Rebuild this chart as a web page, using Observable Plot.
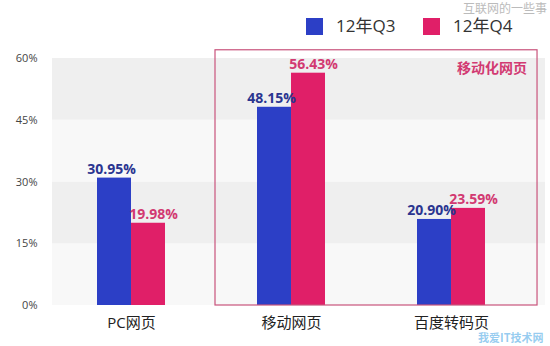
<!DOCTYPE html>
<html><head><meta charset="utf-8">
<script src="https://cdn.jsdelivr.net/npm/d3@7"></script>
<script src="https://cdn.jsdelivr.net/npm/@observablehq/plot@0.6"></script>
<style>
body{margin:0;background:#fff;}
#wrap{position:relative;width:550px;height:346px;font-family:"Open Sans","Noto Sans CJK SC",sans-serif;overflow:hidden;}
.leg{position:absolute;top:17px;font-size:17px;line-height:18px;color:#333;display:flex;align-items:center;}
.sw{display:inline-block;width:17px;height:17px;margin-right:13px;}
.wm{position:absolute;font-family:"Noto Sans CJK SC",sans-serif;}
</style>
</head><body><div id="wrap"></div>
<script>
const categories = ["PC网页", "移动网页", "百度转码页"];
const series = ["12年Q3", "12年Q4"];
const q3 = [30.95, 48.15, 20.90];
const q4 = [19.98, 56.43, 23.59];
const yTicks = [0, 15, 30, 45, 60];
const bandEdges = [[0, 15], [15, 30], [30, 45], [45, 60]];
const highlightCats = ["移动网页", "百度转码页"];
const highlightLabel = "移动化网页";
const highlightTop = 62;

const barColors = ["#2c3fc6", "#e01f68"];
const labelColors = ["#2a3590", "#d23a72"];

const data = categories.flatMap((c, i) => [
  {cat: c, s: series[0], v: q3[i]},
  {cat: c, s: series[1], v: q4[i]}
]);
const bandData = bandEdges.map(([a, b], i) => ({a, b, shade: i % 2}));

const xRange = [50, 531];
const pIn = 0.576, pOut = 0.287;
const bw = d3.scaleBand().domain(categories).range(xRange).paddingInner(pIn).paddingOuter(pOut).bandwidth();

const fmt = v => v.toFixed(2) + "%";

const plot = Plot.plot({
  width: 550, height: 346,
  marginTop: 58, marginBottom: 41, marginLeft: 50, marginRight: 5,
  style: {fontFamily: '"Open Sans","Noto Sans CJK SC",sans-serif', background: "transparent"},
  x: {domain: categories, range: xRange, paddingInner: pIn, paddingOuter: pOut, label: null},
  y: {domain: [0, 60], label: null},
  marks: [
    Plot.rectY(bandData, {y1: "a", y2: "b", fill: d => d.shade ? "#efefef" : "#f8f8f8", insetLeft: 2}),
    Plot.barY(data.filter(d => d.s === series[0]), {x: "cat", y: "v", fill: barColors[0], insetRight: bw / 2}),
    Plot.barY(data.filter(d => d.s === series[1]), {x: "cat", y: "v", fill: barColors[1], insetLeft: bw / 2}),
    Plot.text(data.filter(d => d.s === series[0]), {x: "cat", y: "v", text: d => fmt(d.v), fill: labelColors[0], dx: -bw / 4 - 3, dy: -4, lineAnchor: "bottom", fontSize: 14, fontWeight: "bold"}),
    Plot.text(data.filter(d => d.s === series[1]), {x: "cat", y: "v", text: d => fmt(d.v), fill: labelColors[1], dx: bw / 4 + 5, dy: -4, lineAnchor: "bottom", fontSize: 14, fontWeight: "bold"}),
    Plot.axisY({ticks: yTicks, tickSize: 0, tickPadding: 13, tickFormat: d => d + "%", fontSize: 11, color: "#444", anchor: "left"}),
    Plot.axisX({tickSize: 0, tickPadding: 12, fontSize: 15, color: "#222", anchor: "bottom"})
  ]
});

// highlight box derived from scales
const xs = plot.scale("x"), ys = plot.scale("y");
const svg = d3.select(plot);
const bx1 = xs.apply(highlightCats[0]) - 42;
const bx2 = xs.apply(highlightCats[1]) + bw + 52;
const by1 = ys.apply(highlightTop), by2 = ys.apply(0);
svg.append("rect").attr("x", bx1).attr("y", by1).attr("width", bx2 - bx1).attr("height", by2 - by1)
  .attr("fill", "none").attr("stroke", "#c9547c").attr("stroke-width", 1.2);
svg.append("text").attr("x", bx2 - 10).attr("y", by1 + 23).attr("text-anchor", "end")
  .attr("font-size", 14).attr("font-weight", "bold").attr("fill", "#d23a72")
  .attr("font-family", '"Noto Sans CJK SC",sans-serif').text(highlightLabel);

const wrap = document.getElementById("wrap");
wrap.appendChild(plot);

// legend
const legX = [306, 423];
series.forEach((s, i) => {
  const d = document.createElement("div");
  d.className = "leg";
  d.style.left = legX[i] + "px";
  d.innerHTML = `<span class="sw" style="background:${barColors[i]}"></span><span>${s}</span>`;
  wrap.appendChild(d);
});
// watermarks
const w1 = document.createElement("div");
w1.className = "wm"; w1.textContent = "互联网的一些事";
w1.style.cssText += "right:3px;top:1px;font-size:12px;line-height:13px;color:#bbb;";
wrap.appendChild(w1);
const w2 = document.createElement("div");
w2.className = "wm"; w2.textContent = "我爱IT技术网";
w2.style.cssText += "left:478px;top:331px;font-size:11px;line-height:13px;font-weight:bold;color:rgba(80,170,230,0.6);";
wrap.appendChild(w2);
</script>
</body></html>
